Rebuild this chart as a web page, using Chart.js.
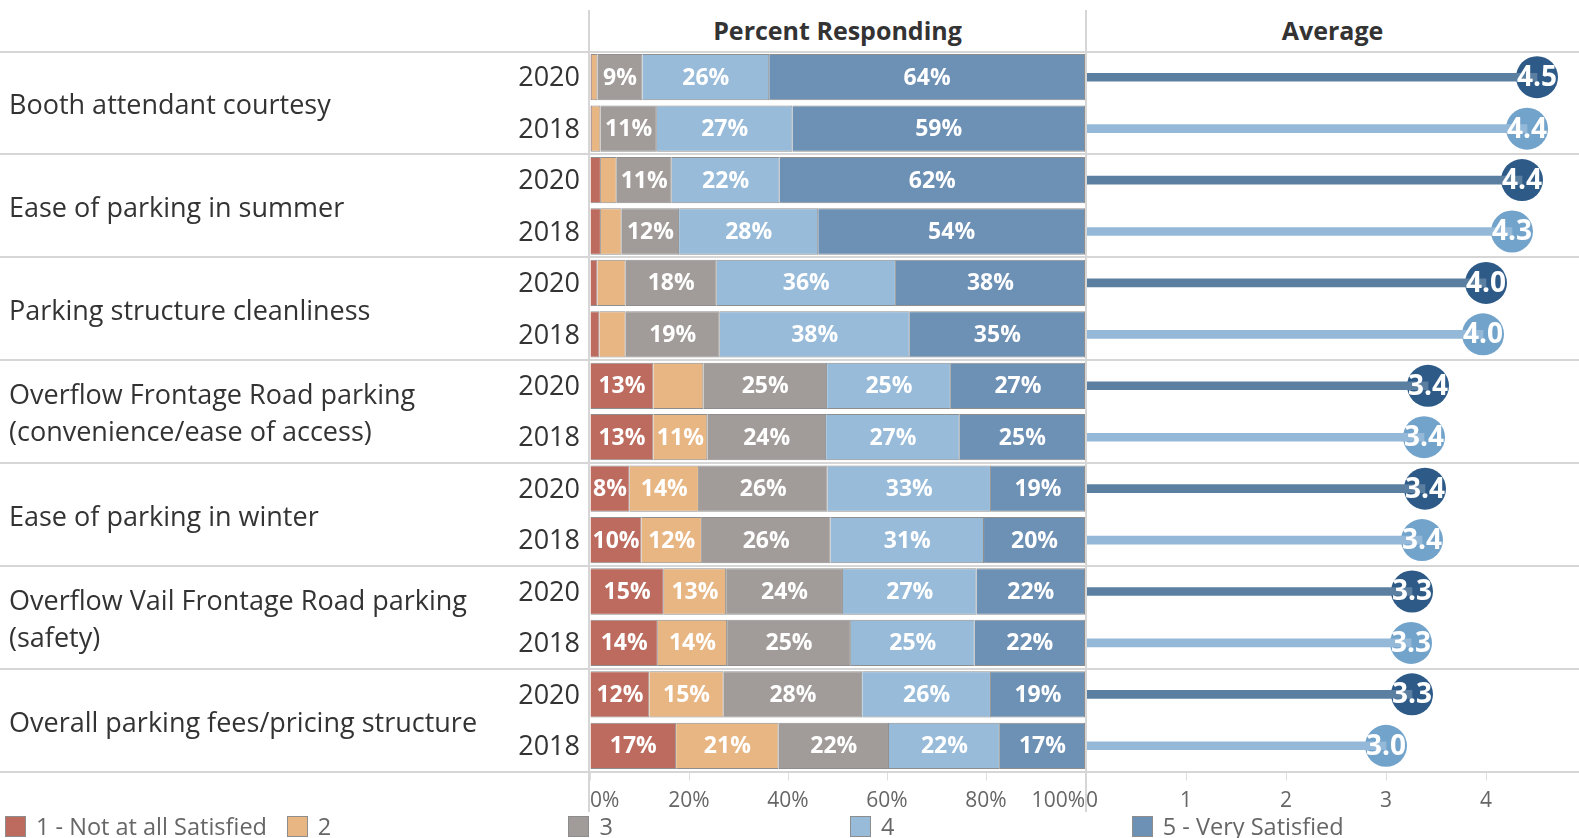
<!DOCTYPE html>
<html>
<head>
<meta charset="utf-8">
<script src="https://cdn.jsdelivr.net/npm/chart.js@4.4.0/dist/chart.umd.min.js"></script>
<style>
  body { margin: 0; background: #fff; font-family: "Open Sans", sans-serif; }
  #wrap { position: relative; width: 1579px; height: 838px; overflow: hidden; }
  .line { position: absolute; background: #d6d6d6; }
  .head { position: absolute; top: 12px; height: 36px; line-height: 36px; text-align: center; font-weight: 700; font-size: 25px; color: #333; }
  .cat { position: absolute; left: 9px; width: 490px; display: flex; align-items: center; font-size: 27px; line-height: 37px; color: #333; white-space: pre-line; }
  canvas { position: absolute; top: 0; }
  #legend { position: absolute; left: 0; top: 812px; width: 1579px; height: 26px; }
  .item { position: absolute; top: 2px; height: 24px; font-size: 23.5px; line-height: 24px; color: #666; white-space: nowrap; }
  .item span { position: absolute; left: 0; top: 2px; width: 19px; height: 19px; border: 1px solid #8d8d8d; }
  .item b { font-weight: 400; position: absolute; left: 31px; top: 0; }
</style>
</head>
<body>
<div id="wrap">
  <div class="head" style="left:589px;width:497px">Percent Responding</div>
  <div class="head" style="left:1086px;width:493px">Average</div>
  <canvas id="bars" width="626" height="838" style="left:460px"></canvas>
  <canvas id="avg" width="493" height="838" style="left:1086px"></canvas>
  <div id="legend"></div>
</div>
<script>
// rows go category by category: 2020 first, then 2018
const categories = [
  "Booth attendant courtesy",
  "Ease of parking in summer",
  "Parking structure cleanliness",
  "Overflow Frontage Road parking\n(convenience/ease of access)",
  "Ease of parking in winter",
  "Overflow Vail Frontage Road parking\n(safety)",
  "Overall parking fees/pricing structure"
];
const years = ["2020", "2018"];

const seriesNames = ["1 - Not at all Satisfied", "2", "3", "4", "5 - Very Satisfied"];
const seriesColors = ["#bd6b5e", "#e8b683", "#a19c99", "#97bbd9", "#6d90b5"];

// percent responding, one array per rating
const notSatisfied = [0.4, 0.4, 2.2, 2.2, 1.5, 1.9, 12.8, 12.8, 8, 10.4, 14.9, 13.7, 12, 17.4];
const rating2 = [1.1, 1.7, 3.2, 4.2, 5.7, 5.3, 10.1, 10.9, 14, 12.2, 12.6, 14.0, 15, 20.7];
const rating3 = [9.1, 11.4, 11.1, 11.6, 18.4, 19, 25, 24, 26, 26, 23.6, 25, 28, 22.3];
const rating4 = [25.6, 27.4, 21.8, 28.1, 36.2, 38.4, 25, 27, 33, 31, 27, 25, 26, 22.4];
const verySatisfied = [63.8, 59.1, 61.7, 53.9, 38.2, 35.4, 27.1, 25.3, 19, 20.4, 21.9, 22.3, 19, 17.2];

// [row, series] labels left out in the original
const hiddenLabels = [[6, 1]];

const averages = [4.51, 4.41, 4.36, 4.26, 4.00, 3.97, 3.42, 3.38, 3.39, 3.36, 3.26, 3.25, 3.26, 3.00];
const avgTicks = [0, 1, 2, 3, 4];
const avgMax = 4.93;
const pctTicks = [0, 20, 40, 60, 80, 100];

const stemColors = { "2020": "#5b7fa1", "2018": "#94b8d7" };
const dotColors = { "2020": "#2d5a87", "2018": "#72a3cb" };

const rowYears = categories.flatMap(() => years);
const rowLabels = rowYears.slice();

const TOP = 51.5, BOTTOM = 771.5;
const rowH = (BOTTOM - TOP) / rowYears.length;
const wrap = document.getElementById("wrap");

// left side category labels and separators
categories.forEach((c, i) => {
  const d = document.createElement("div");
  d.className = "cat";
  d.style.top = (TOP + i * rowH * 2 + 1) + "px";
  d.style.height = (rowH * 2) + "px";
  d.textContent = c;
  wrap.appendChild(d);
});
for (let i = 0; i <= categories.length; i++) {
  const l = document.createElement("div");
  l.className = "line";
  l.style.left = "0px";
  l.style.width = "1579px";
  l.style.height = "2px";
  l.style.top = (TOP + i * rowH * 2 - 1) + "px";
  wrap.appendChild(l);
}
[589, 1086].forEach((x) => {
  const l = document.createElement("div");
  l.className = "line";
  l.style.left = (x - 1) + "px";
  l.style.width = "1.5px";
  l.style.top = "10px";
  l.style.height = "802px";
  wrap.appendChild(l);
});

// legend
const legendEl = document.getElementById("legend");
seriesNames.forEach((name, i) => {
  const it = document.createElement("div");
  it.className = "item";
  it.style.left = (5 + i * 281.7) + "px";
  it.innerHTML = '<span style="background:' + seriesColors[i] + '"></span><b></b>';
  it.querySelector("b").textContent = name;
  legendEl.appendChild(it);
});

Chart.defaults.font.family = '"Open Sans", sans-serif';
Chart.defaults.animation = false;

// keep the plot edges where they are, labels may hang over
const noSidePad = (s) => {
  s.height = 838 - BOTTOM;
  s.paddingLeft = 0;
  s.paddingRight = 0;
};

const segmentLabels = {
  id: "segmentLabels",
  afterDatasetsDraw(chart) {
    const ctx = chart.ctx;
    ctx.save();
    ctx.font = '700 23px "Open Sans"';
    ctx.fillStyle = "#fff";
    ctx.textAlign = "center";
    ctx.textBaseline = "middle";
    chart.data.datasets.forEach((ds, di) => {
      chart.getDatasetMeta(di).data.forEach((bar, i) => {
        if (hiddenLabels.some((h) => h[0] === i && h[1] === di)) return;
        const txt = Math.round(ds.data[i]) + "%";
        const w = Math.abs(bar.x - bar.base);
        if (ctx.measureText(txt).width + 2 > w) return;
        ctx.fillText(txt, (bar.x + bar.base) / 2, bar.y + 1);
      });
    });
    ctx.restore();
  }
};

const pctSeries = [notSatisfied, rating2, rating3, rating4, verySatisfied];

new Chart(document.getElementById("bars"), {
  type: "bar",
  data: {
    labels: rowLabels,
    datasets: pctSeries.map((vals, i) => ({
      label: seriesNames[i],
      data: vals,
      backgroundColor: seriesColors[i],
      borderColor: "#8e8e8e",
      borderWidth: 1,
      barPercentage: 0.9,
      categoryPercentage: 1.0
    }))
  },
  options: {
    indexAxis: "y",
    responsive: false,
    layout: { autoPadding: false, padding: { top: TOP, right: 1, left: 0, bottom: 0 } },
    plugins: { legend: { display: false }, tooltip: { enabled: false } },
    scales: {
      x: {
        stacked: true,
        min: 0,
        max: 100,
        afterBuildTicks: (s) => { s.ticks = pctTicks.map((v) => ({ value: v })); },
        afterFit: noSidePad,
        border: { display: false },
        grid: { drawOnChartArea: false, drawTicks: true, tickLength: 9, color: "#dedede" },
        ticks: { align: "inner", padding: 8, color: "#666", font: { size: 21 }, callback: (v) => v + "%" }
      },
      y: {
        stacked: true,
        afterFit: (s) => { s.width = 130; },
        border: { display: false },
        grid: { display: false, drawTicks: false },
        ticks: { padding: 10, labelOffset: 1.5, color: "#333", font: { size: 27 } }
      }
    }
  },
  plugins: [segmentLabels]
});

const dotLabels = {
  id: "dotLabels",
  afterDatasetsDraw(chart) {
    const ctx = chart.ctx;
    ctx.save();
    ctx.font = '700 28px "Open Sans"';
    ctx.fillStyle = "#fff";
    ctx.textAlign = "center";
    ctx.textBaseline = "middle";
    chart.getDatasetMeta(1).data.forEach((pt, i) => {
      ctx.fillText(averages[i].toFixed(1), pt.x, pt.y + 1);
    });
    ctx.restore();
  }
};

new Chart(document.getElementById("avg"), {
  type: "bar",
  data: {
    labels: rowLabels,
    datasets: [
      {
        type: "bar",
        data: averages,
        backgroundColor: rowYears.map((y) => stemColors[y]),
        barThickness: 8
      },
      {
        type: "line",
        indexAxis: "y",
        data: averages,
        showLine: false,
        clip: false,
        pointRadius: 21,
        pointBorderWidth: 0,
        pointBackgroundColor: rowYears.map((y) => dotColors[y])
      }
    ]
  },
  options: {
    indexAxis: "y",
    responsive: false,
    layout: { autoPadding: false, padding: { top: TOP, right: 0, left: 0, bottom: 0 } },
    plugins: { legend: { display: false }, tooltip: { enabled: false } },
    scales: {
      x: {
        min: 0,
        max: avgMax,
        afterBuildTicks: (s) => { s.ticks = avgTicks.concat([avgMax]).map((v) => ({ value: v })); },
        afterFit: noSidePad,
        border: { display: false },
        grid: {
          drawOnChartArea: false, drawTicks: true, tickLength: 9,
          color: (c) => (c.tick && c.tick.value > 4 ? "rgba(0,0,0,0)" : "#dedede")
        },
        ticks: { align: "inner", padding: 8, color: "#666", font: { size: 21 },
          callback: (v) => (avgTicks.includes(v) ? v : "") }
      },
      y: { display: false }
    }
  },
  plugins: [dotLabels]
});
</script>
</body>
</html>
